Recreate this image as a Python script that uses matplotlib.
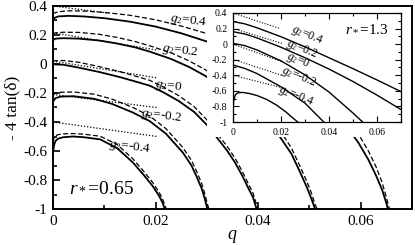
import matplotlib
matplotlib.use("Agg")
import matplotlib.pyplot as plt
from matplotlib.patches import Rectangle
from matplotlib.ticker import MultipleLocator

plt.rcParams["font.family"] = ["Liberation Serif", "DejaVu Serif"]
plt.rcParams["mathtext.fontset"] = "custom"
plt.rcParams["mathtext.rm"] = "Liberation Serif"
plt.rcParams["mathtext.it"] = "Liberation Serif:italic"
plt.rcParams["axes.unicode_minus"] = False

G2 = ["0.4", "0.2", "0", "-0.2", "-0.4"]

# main panel, r* = 0.65 : solid (full), dashed (approx), dotted (tangent)
main_q_solid = [
    [0, 0.0003, 0.001, 0.003, 0.006, 0.01, 0.015, 0.02, 0.025, 0.03, 0.035, 0.04,
     0.045, 0.05, 0.054, 0.057, 0.0595, 0.0615, 0.063, 0.0642, 0.065, 0.0653],
    [0, 0.0005, 0.002, 0.005, 0.009, 0.0124, 0.016, 0.0189, 0.023, 0.0265, 0.0296,
     0.033, 0.037, 0.041, 0.0442, 0.0465, 0.0481, 0.0495, 0.0505, 0.0511],
    [0, 0.002, 0.005, 0.009, 0.013, 0.0165, 0.0189, 0.0215, 0.0245, 0.0275, 0.03,
     0.0318, 0.034, 0.0355, 0.0369, 0.038, 0.039, 0.0397],
    [0, 0.0005, 0.0015, 0.004, 0.008, 0.0115, 0.0156, 0.0189, 0.022, 0.0253, 0.027,
     0.028, 0.029, 0.0296, 0.0301],
    [0, 0.0002, 0.0005, 0.001, 0.002, 0.0039, 0.006, 0.0092, 0.0125, 0.0156, 0.0178,
     0.0195, 0.0207, 0.0214, 0.0218],
]
main_v_solid = [
    [0.30, 0.318, 0.328, 0.332, 0.328, 0.316, 0.292, 0.258, 0.212, 0.155, 0.085, 0.0,
     -0.10, -0.22, -0.33, -0.42, -0.54, -0.66, -0.77, -0.87, -0.96, -1.0],
    [0.165, 0.175, 0.178, 0.175, 0.162, 0.142, 0.115, 0.085, 0.035, -0.02, -0.08,
     -0.16, -0.26, -0.38, -0.50, -0.62, -0.74, -0.85, -0.94, -1.0],
    [-0.002, -0.005, -0.025, -0.055, -0.09, -0.125, -0.15, -0.195, -0.255, -0.33,
     -0.42, -0.50, -0.60, -0.68, -0.77, -0.85, -0.92, -1.0],
    [-0.26, -0.235, -0.225, -0.222, -0.24, -0.275, -0.335, -0.395, -0.48, -0.61,
     -0.70, -0.776, -0.86, -0.93, -1.0],
    [-0.61, -0.56, -0.53, -0.515, -0.505, -0.50, -0.505, -0.52, -0.58, -0.68, -0.77,
     -0.845, -0.91, -0.96, -1.0],
]
main_q_dash = [
    [0, 0.0003, 0.001, 0.003, 0.006, 0.01, 0.015, 0.02, 0.025, 0.03, 0.035, 0.04,
     0.045, 0.05, 0.054, 0.057, 0.0595, 0.0615, 0.063, 0.0642, 0.065, 0.0656],
    [0, 0.0005, 0.002, 0.005, 0.009, 0.0124, 0.016, 0.0189, 0.023, 0.0265, 0.0296,
     0.033, 0.037, 0.041, 0.0442, 0.0465, 0.0481, 0.0495, 0.0505, 0.0511, 0.0515],
    [0, 0.002, 0.005, 0.009, 0.013, 0.0165, 0.0189, 0.0215, 0.0245, 0.0275, 0.03,
     0.0318, 0.034, 0.0355, 0.0369, 0.038, 0.039, 0.0397, 0.0401],
    [0, 0.0005, 0.0015, 0.004, 0.008, 0.0115, 0.0156, 0.0189, 0.022, 0.0253, 0.027,
     0.028, 0.029, 0.0296, 0.0301, 0.0304],
    [0, 0.0002, 0.0005, 0.001, 0.002, 0.0039, 0.006, 0.0092, 0.0125, 0.0156, 0.0178,
     0.0195, 0.0207, 0.0214, 0.0218, 0.0221],
]
main_v_dash = [
    [0.345, 0.352, 0.36, 0.367, 0.365, 0.356, 0.336, 0.305, 0.262, 0.21, 0.145, 0.065,
     -0.03, -0.15, -0.27, -0.37, -0.48, -0.60, -0.71, -0.82, -0.92, -1.0],
    [0.208, 0.215, 0.219, 0.218, 0.205, 0.184, 0.155, 0.125, 0.077, 0.022, -0.037,
     -0.115, -0.215, -0.335, -0.455, -0.58, -0.70, -0.81, -0.90, -0.97, -1.0],
    [0.022, 0.024, 0.012, -0.018, -0.052, -0.088, -0.113, -0.158, -0.218, -0.293,
     -0.385, -0.47, -0.57, -0.65, -0.74, -0.82, -0.89, -0.97, -1.0],
    [-0.215, -0.2, -0.195, -0.193, -0.208, -0.242, -0.30, -0.36, -0.445, -0.575,
     -0.665, -0.74, -0.825, -0.895, -0.965, -1.0],
    [-0.54, -0.51, -0.495, -0.487, -0.482, -0.48, -0.484, -0.498, -0.555, -0.655,
     -0.745, -0.82, -0.885, -0.935, -0.975, -1.0],
]
main_q_dot = [[0, 0.011], [0, 0.0205], [0, 0.0202], [0, 0.0202], [0, 0.0203]]
main_v_dot = [[0.40, 0.35], [0.215, 0.095], [0.02, -0.095], [-0.21, -0.30], [-0.40, -0.50]]

# inset, r* = 1.3 : solid and dotted
ins_q_solid = [
    [0, 0.005, 0.01, 0.02, 0.03, 0.04, 0.05, 0.06, 0.07],
    [0, 0.005, 0.01, 0.02, 0.03, 0.04, 0.05, 0.06, 0.07],
    [0, 0.005, 0.01, 0.02, 0.03, 0.04, 0.05, 0.054],
    [0, 0.005, 0.01, 0.02, 0.03, 0.0375, 0.0378],
    [0, 0.0003, 0.001, 0.002, 0.004, 0.007, 0.01, 0.014, 0.018, 0.022, 0.025, 0.027],
]
ins_v_solid = [
    [0.29, 0.26, 0.21, 0.095, -0.035, -0.175, -0.315, -0.46, -0.61],
    [0.16, 0.13, 0.08, -0.04, -0.175, -0.32, -0.48, -0.655, -0.84],
    [0.01, -0.02, -0.075, -0.215, -0.395, -0.615, -0.885, -1.0],
    [-0.268, -0.313, -0.378, -0.548, -0.758, -0.99, -1.0],
    [-0.85, -0.72, -0.65, -0.625, -0.62, -0.635, -0.66, -0.71, -0.78, -0.87, -0.95, -1.0],
]
ins_q_dot = [[0, 0.0196], [0, 0.0203], [0, 0.02], [0, 0.0203], [0, 0.0205]]
ins_v_dot = [[0.40, 0.20], [0.203, 0.01], [0.0, -0.22], [-0.195, -0.40], [-0.40, -0.56]]

main_label_xy = [(188, 21), (180, 51), (168, 86), (161, 116), (130, 147)]
ins_label_xy = [(307, 35), (302, 49), (298, 61), (299, 77), (296, 96)]

W, H = 415, 245
fig = plt.figure(figsize=(W / 100, H / 100), dpi=100)
ax = fig.add_axes([53 / W, 1 - 209 / H, (412 - 53) / W, (209 - 6) / H])

for i in range(5):
    ax.plot(main_q_solid[i], main_v_solid[i], color="black", lw=1.3)
    ax.plot(main_q_dash[i], main_v_dash[i], color="black", lw=0.9, ls=(0, (4, 2)))
    ax.plot(main_q_dot[i], main_v_dot[i], color="black", lw=0.9, ls=(0, (1, 1.5)))
    x, y = main_label_xy[i]
    fig.text(x / W, 1 - y / H, "$g_2$=" + G2[i], ha="center", va="center",
             fontsize=9.5, rotation=-7)

ax.set_xlim(0, 0.07)
ax.set_ylim(-1, 0.4)
ax.set_xticks([0, 0.02, 0.04, 0.06])
ax.set_xticklabels(["0", "0.02", "0.04", "0.06"])
ax.set_yticks([0.4, 0.2, 0, -0.2, -0.4, -0.6, -0.8, -1])
ax.set_yticklabels(["0.4", "0.2", "0", "-0.2", "-0.4", "-0.6", "-0.8", "-1"])
ax.xaxis.set_minor_locator(MultipleLocator(0.01))
ax.yaxis.set_minor_locator(MultipleLocator(0.1))
ax.tick_params(which="both", direction="in", top=False, right=False,
               labelsize=11, width=1.2, pad=4)
ax.tick_params(which="major", length=5)
ax.tick_params(which="minor", length=3)
for s in ax.spines.values():
    s.set_linewidth(1.4)
ax.set_ylabel("- 4 tan(δ)", fontsize=12.5, labelpad=2)
fig.text(232 / W, 1 - 236 / H, "$q$", ha="center", va="center", fontsize=13)
ax.text(0.045, 0.084, "$r_*$=0.65", transform=ax.transAxes, fontsize=14,
        va="baseline")

# white panel behind the inset
ax.add_patch(Rectangle((207 / W, 1 - 137 / H), (412 - 207) / W, (137 - 6) / H,
                       transform=fig.transFigure, facecolor="white", edgecolor="none",
                       zorder=2.4, clip_on=False))

ins = fig.add_axes([233 / W, 1 - 122 / H, (401 - 233) / W, (122 - 13) / H])
for i in range(5):
    ins.plot(ins_q_solid[i], ins_v_solid[i], color="black", lw=1.0)
    ins.plot(ins_q_dot[i], ins_v_dot[i], color="black", lw=0.8, ls=(0, (1, 1.5)))
    x, y = ins_label_xy[i]
    fig.text(x / W, 1 - y / H, "$g_2$=" + G2[i], ha="center", va="center",
             fontsize=8.5, rotation=-22)
ins.set_xlim(0, 0.07)
ins.set_ylim(-1, 0.4)
ins.set_xticks([0, 0.02, 0.04, 0.06])
ins.set_xticklabels(["0", "0.02", "0.04", "0.06"])
ins.set_yticks([0.4, 0.2, 0, -0.2, -0.4, -0.6, -0.8, -1])
ins.set_yticklabels(["0.4", "0.2", "0", "-0.2", "-0.4", "-0.6", "-0.8", "-1"])
ins.xaxis.set_minor_locator(MultipleLocator(0.01))
ins.yaxis.set_minor_locator(MultipleLocator(0.1))
ins.tick_params(which="both", direction="in", top=True, right=True,
                labelsize=7, width=0.8, pad=4)
ins.tick_params(which="major", length=4)
ins.tick_params(which="minor", length=2)
for s in ins.spines.values():
    s.set_linewidth(0.9)
ins.text(0.665, 0.83, "$r_*$=1.3", transform=ins.transAxes, fontsize=11,
         va="baseline")

fig.savefig("out.png", dpi=100)
